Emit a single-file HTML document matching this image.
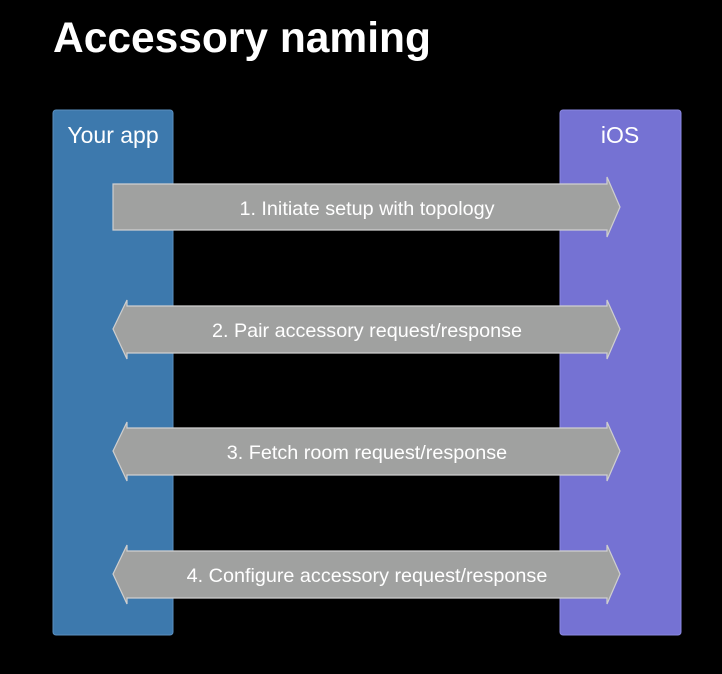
<!DOCTYPE html>
<html><head><style>
body{margin:0;background:#000;width:722px;height:674px;overflow:hidden;font-family:"Liberation Sans",sans-serif}
</style></head><body>
<svg width="722" height="674" xmlns="http://www.w3.org/2000/svg" style="position:absolute;left:0;top:0">
<text x="53" y="52" fill="#fff" font-size="42.5" font-weight="bold" font-family="Liberation Sans, sans-serif">Accessory naming</text>
<rect x="53" y="110" width="120" height="525" rx="3" fill="#3d79ad" stroke="#5a8fc0" stroke-width="1"/>
<rect x="560" y="110" width="121" height="525" rx="3" fill="#7572d3" stroke="#8a88e0" stroke-width="1"/>
<text x="113" y="143" fill="#fff" font-size="23" text-anchor="middle" font-family="Liberation Sans, sans-serif">Your app</text>
<text x="620" y="143" fill="#fff" font-size="23" text-anchor="middle" font-family="Liberation Sans, sans-serif">iOS</text>
<g fill="#a0a1a0" stroke="#cfcfcf" stroke-width="1.2">
<polygon points="113,184 607,184 607,177 620,207 607,237 607,230 113,230"/>
<polygon points="127,306 607,306 607,300 620,329 607,359 607,353 127,353 127,359 113,329 127,300"/>
<polygon points="127,428 607,428 607,422 620,451 607,481 607,475 127,475 127,481 113,451 127,422"/>
<polygon points="127,551 607,551 607,545 620,574 607,604 607,598 127,598 127,604 113,574 127,545"/>
</g>
<g fill="#fff" font-size="19.8" text-anchor="middle" font-family="Liberation Sans, sans-serif">
<text x="367" y="215">1. Initiate setup with topology</text>
<text x="367" y="337">2. Pair accessory request/response</text>
<text x="367" y="459">3. Fetch room request/response</text>
<text x="367" y="582">4. Configure accessory request/response</text>
</g>
</svg>
</body></html>
